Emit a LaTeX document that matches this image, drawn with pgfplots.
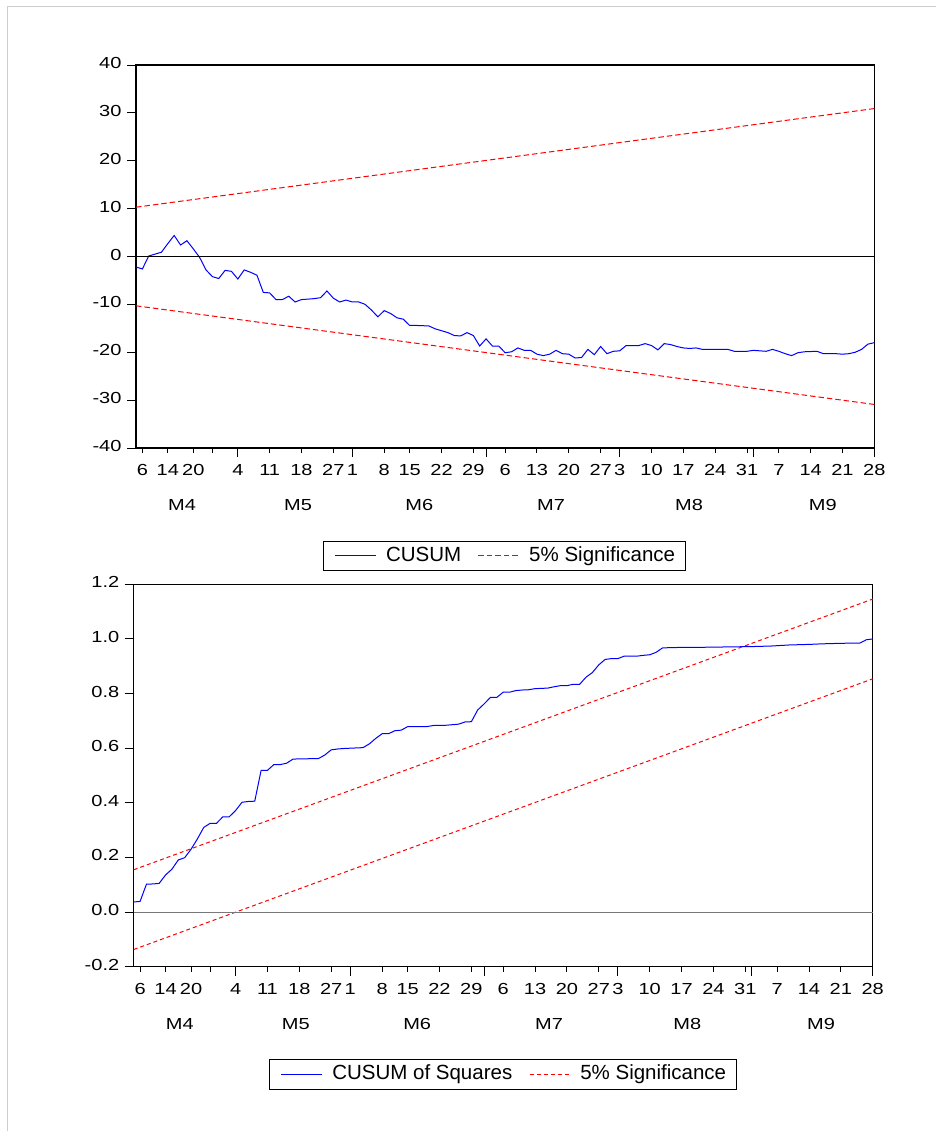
\documentclass[border=0pt]{standalone}
\usepackage{fontspec}
\setmainfont{Liberation Sans}
\newfontfamily\tickfont{Liberation Sans}[FakeStretch=1.25]
\usepackage{pgfplots}
\pgfplotsset{compat=1.18}
\usepackage{pgfplotstable}

\pgfplotstableread{
t v
0 -2.2
1 -2.6
2 0.1
3 0.5
4 0.9
5 2.7
6 4.4
7 2.4
8 3.3
9 1.6
10 -0.2
11 -2.8
12 -4.2
13 -4.6
14 -2.9
15 -3.1
16 -4.7
17 -2.8
18 -3.3
19 -3.9
20 -7.5
21 -7.6
22 -9.0
23 -9.0
24 -8.3
25 -9.5
26 -9.0
27 -8.9
28 -8.8
29 -8.6
30 -7.2
31 -8.7
32 -9.5
33 -9.1
34 -9.5
35 -9.5
36 -10.0
37 -11.2
38 -12.6
39 -11.3
40 -11.9
41 -12.8
42 -13.1
43 -14.4
44 -14.4
45 -14.45
46 -14.5
47 -15.1
48 -15.5
49 -15.9
50 -16.5
51 -16.6
52 -15.9
53 -16.5
54 -18.7
55 -17.2
56 -18.7
57 -18.7
58 -20.1
59 -19.9
60 -19.1
61 -19.6
62 -19.6
63 -20.4
64 -20.7
65 -20.4
66 -19.6
67 -20.3
68 -20.4
69 -21.2
70 -21.1
71 -19.4
72 -20.5
73 -18.8
74 -20.3
75 -19.8
76 -19.7
77 -18.6
78 -18.6
79 -18.6
80 -18.2
81 -18.6
82 -19.5
83 -18.2
84 -18.4
85 -18.8
86 -19.1
87 -19.2
88 -19.1
89 -19.4
90 -19.4
91 -19.4
92 -19.4
93 -19.4
94 -19.8
95 -19.8
96 -19.8
97 -19.6
98 -19.7
99 -19.8
100 -19.4
101 -19.8
102 -20.3
103 -20.7
104 -20.1
105 -19.9
106 -19.85
107 -19.8
108 -20.3
109 -20.3
110 -20.3
111 -20.4
112 -20.3
113 -20.0
114 -19.4
115 -18.3
116 -18.0
}\cusumtab

\pgfplotstableread{
t v
0 0.037
1 0.039
2 0.102
3 0.103
4 0.105
5 0.136
6 0.157
7 0.191
8 0.199
9 0.230
10 0.268
11 0.310
12 0.325
13 0.325
14 0.349
15 0.349
16 0.372
17 0.402
18 0.405
19 0.406
20 0.519
21 0.519
22 0.540
23 0.540
24 0.545
25 0.560
26 0.561
27 0.561
28 0.562
29 0.562
30 0.575
31 0.594
32 0.597
33 0.599
34 0.600
35 0.601
36 0.602
37 0.616
38 0.636
39 0.653
40 0.653
41 0.664
42 0.666
43 0.679
44 0.679
45 0.679
46 0.679
47 0.683
48 0.684
49 0.684
50 0.686
51 0.688
52 0.696
53 0.697
54 0.740
55 0.762
56 0.786
57 0.786
58 0.805
59 0.805
60 0.811
61 0.813
62 0.814
63 0.818
64 0.819
65 0.820
66 0.825
67 0.829
68 0.829
69 0.834
70 0.834
71 0.860
72 0.877
73 0.905
74 0.925
75 0.928
76 0.928
77 0.937
78 0.937
79 0.937
80 0.940
81 0.942
82 0.951
83 0.967
84 0.968
86 0.969
88 0.969
91 0.970
94 0.971
97 0.972
100 0.974
103 0.978
106 0.980
108 0.982
111 0.984
114 0.985
115 0.997
116 1.000
}\cusumsqtab

\pgfplotsset{
  cusumbase/.style={
    scale only axis,
    xmin=0, xmax=116,
    tick pos=left,
    tick align=outside,
    major tick length=5bp,
    minor tick length=9bp,
    axis line style={line width=1.2bp, black},
    tick style={line width=1bp, black},
    xtick={1,5,9,12,16,21,26,31,34,39,43,48,53,58,63,68,73,76,81,86,91,96,101,106,111,116},
    xticklabels={6,14,20,{},4,11,18,27,1,8,15,22,29,6,13,20,27,3,10,17,24,31,7,14,21,28},
    minor xtick={16,34,55,76,97,116},
    extra x ticks={7.23,25.45,44.5,65.2,86.9,107.9},
    extra x tick labels={M4,M5,M6,M7,M8,M9},
    extra x tick style={tick style={draw=none}, xticklabel style={yshift=-35bp}},
    tick label style={font=\tickfont\fontsize{16bp}{19bp}\selectfont, text=black},
    xticklabel style={yshift=-8bp},
    yticklabel style={xshift=-6bp, yshift=2bp},
    legend columns=-1,
    legend style={anchor=north, line width=1bp, fill=white, draw=black,
      font=\fontsize{20.5bp}{24bp}\selectfont,
      inner xsep=5.5bp, inner ysep=5bp,
      nodes={inner xsep=4.5bp, inner ysep=0bp, text height=15bp, text depth=4.5bp},
      /tikz/every odd column/.append style={column sep=4.8bp},
      /tikz/every even column/.append style={column sep=6.2bp}},
    legend image code/.code={\path (0bp,0bp); \draw[##1] (6bp,0bp) -- (47bp,0bp);},
    clip=false,
  }
}

\begin{document}
\begin{tikzpicture}
\useasboundingbox (0,0) rectangle (936bp,-1131bp);
\fill[white] (0,0) rectangle (936bp,-1131bp);
\draw[color={rgb,255:red,205;green,205;blue,205}, line width=1bp] (7.5bp,-1131bp) -- (7.5bp,-6.5bp) -- (936bp,-6.5bp);

\begin{axis}[cusumbase,
  at={(136bp,-448bp)}, anchor=south west,
  width=738.3bp, height=383bp,
  ymin=-40, ymax=40,
  ytick={-40,-30,-20,-10,0,10,20,30,40},
  yticklabels={-40,-30,-20,-10,0,10,20,30,40},
  minor ytick={-40,-30,-20,-10,0,10,20,30,40},
  legend style={at={(0.4987,-0.2415)}}]
\addplot[draw=blue, line width=1bp] table[x=t, y=v] {\cusumtab};
\addlegendentry{CUSUM}
\addplot[draw=red, line width=1bp, dash pattern=on 5.5bp off 3bp] coordinates {(0,10.3) (116,30.9)};
\addlegendentry{5\% Significance}
\addplot[draw=red, line width=1bp, dash pattern=on 5.5bp off 3bp, forget plot] coordinates {(0,-10.3) (116,-30.9)};
\addplot[draw=black, line width=1bp, forget plot] coordinates {(0,0) (116,0)};
\end{axis}

\begin{axis}[cusumbase,
  at={(133.7bp,-966.7bp)}, anchor=south west,
  width=739bp, height=382.4bp,
  ymin=-0.2, ymax=1.2,
  ytick={-0.2,0,0.2,0.4,0.6,0.8,1.0,1.2},
  yticklabels={-0.2,0.0,0.2,0.4,0.6,0.8,1.0,1.2},
  minor ytick={-0.2,0,0.2,0.4,0.6,0.8,1.0,1.2},
  legend style={at={(0.4995,-0.2422)}}]
\addplot[draw=blue, line width=1bp] table[x=t, y=v] {\cusumsqtab};
\addlegendentry{CUSUM of Squares}
\addplot[draw=red, line width=1bp, dash pattern=on 4bp off 3bp] coordinates {(0,0.155) (116,1.146)};
\addlegendentry{5\% Significance}
\addplot[draw=red, line width=1bp, dash pattern=on 4bp off 3bp, forget plot] coordinates {(0,-0.137) (116,0.854)};
\addplot[draw={rgb,255:red,120;green,120;blue,120}, line width=1bp, forget plot] coordinates {(0,0) (116,0)};
\end{axis}
\end{tikzpicture}
\end{document}
